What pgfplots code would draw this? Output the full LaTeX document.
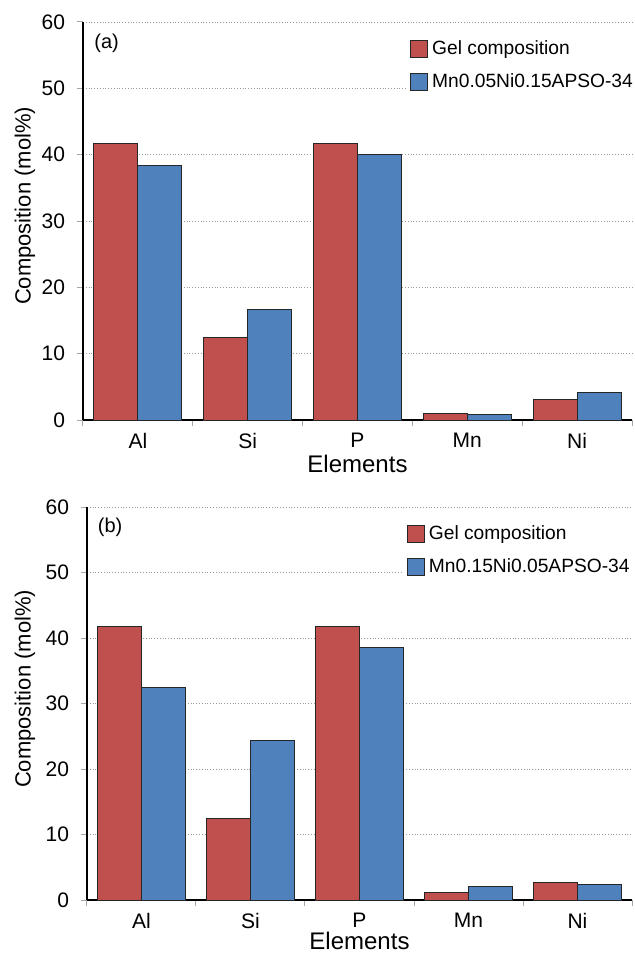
\documentclass[border=0pt]{standalone}
\usepackage{fontspec}
\setmainfont{Liberation Sans}
\usepackage{pgfplots}
\pgfplotsset{compat=1.18}
\definecolor{cred}{HTML}{C0504D}
\definecolor{cblue}{HTML}{4F81BD}
\pgfplotsset{
  mystyle/.style={
    scale only axis,
    ybar=0pt, bar width=22pt,
    ymin=0, ymax=60, ytick={0,10,...,60},
    xmin=-0.5, xmax=4.5,
    xtick={0,1,2,3,4}, xticklabels={Al,Si,P,Mn,Ni},
    minor xtick={-0.5,0.5,1.5,2.5,3.5,4.5},
    axis x line*=bottom, axis y line*=left,
    axis line style={black, line width=0.6pt},
    tick align=outside,
    major tick length=3pt, minor tick length=3pt,
    major x tick style={draw=none},
    minor x tick style={gray!70, line width=0.5pt},
    y tick style={gray!70, line width=0.5pt},
    ymajorgrids, grid style={gray!80, densely dotted, line width=0.4pt},
    /pgf/number format/assume math mode=true,
    tick label style={font=\fontsize{10.5}{12}\selectfont},
    yticklabel style={xshift=-2.5pt},
    xlabel={Elements}, ylabel={Composition (mol\%)},
    xlabel style={font=\fontsize{12}{14}\selectfont, at={(rel axis cs:0.5,0)}, anchor=center},
    ylabel style={font=\fontsize{11}{13}\selectfont},
    legend style={draw=none, fill=white, anchor=north west,
      font=\fontsize{9.6}{11}\selectfont, row sep=4pt, inner sep=2pt},
    legend cell align=left,
    legend image code/.code={\draw[##1, line width=0.5pt] (-1pt,-4.25pt) rectangle (7.5pt,4.25pt);},
    every axis plot/.append style={draw=black!85, line width=0.5pt},
  }
}
\begin{document}
\begin{tikzpicture}
\begin{axis}[mystyle, width=274.5pt, height=199pt,
  xlabel style={yshift=-22pt},
  ylabel style={at={(rel axis cs:0,0.538)}, yshift=29pt, anchor=center},
  legend style={at={(0.588,0.975)}}]
\addplot[fill=cred] coordinates {(0,41.7) (1,12.5) (2,41.7) (3,1.0) (4,3.1)};
\addplot[fill=cblue] coordinates {(0,38.3) (1,16.6) (2,40.0) (3,0.9) (4,4.1)};
\legend{Gel composition, Mn0.05Ni0.15APSO-34}
\node[anchor=west, font=\fontsize{10}{12}\selectfont] at (rel axis cs:0.008,0.947) {(a)};
\end{axis}
\begin{axis}[mystyle, width=272.5pt, height=196.5pt, at={(2pt,-240pt)}, anchor=south west,
  xlabel style={yshift=-20.5pt},
  ylabel style={at={(rel axis cs:0,0.537)}, yshift=31pt, anchor=center},
  legend style={at={(0.579,0.975)}}]
\addplot[fill=cred] coordinates {(0,41.7) (1,12.5) (2,41.7) (3,1.2) (4,2.7)};
\addplot[fill=cblue] coordinates {(0,32.4) (1,24.4) (2,38.6) (3,2.0) (4,2.3)};
\legend{Gel composition, Mn0.15Ni0.05APSO-34}
\node[anchor=west, font=\fontsize{10}{12}\selectfont] at (rel axis cs:0.007,0.949) {(b)};
\end{axis}
\pgfresetboundingbox
\path (-41.5pt,-267pt) rectangle (276pt,210pt);
\end{tikzpicture}
\end{document}
